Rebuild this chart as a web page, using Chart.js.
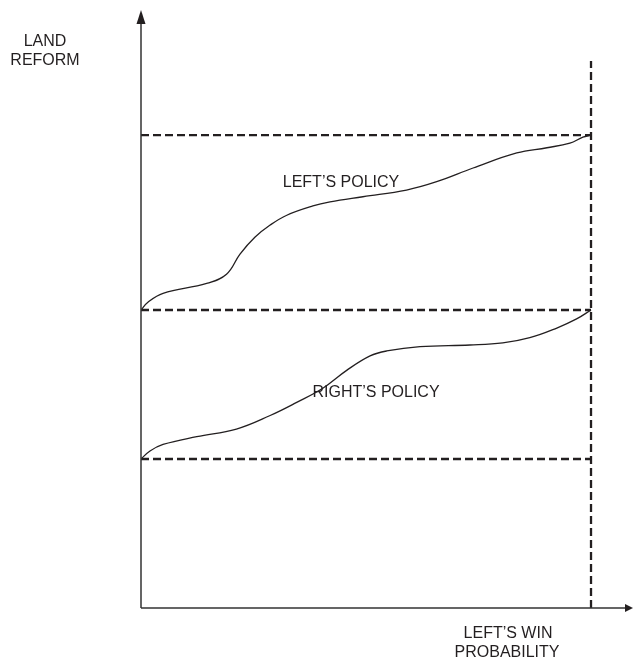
<!DOCTYPE html>
<html>
<head>
<meta charset="utf-8">
<title>Land reform and win probability</title>
<script src="https://cdn.jsdelivr.net/npm/chart.js@4"></script>
<style>
  body { margin: 0; background: #fff; }
  canvas { display: block; }
</style>
</head>
<body>
<canvas id="myChart" width="634" height="664"></canvas>
<script>
// win probability (0..1) and land reform level
const leftX = [0, 0.016, 0.049, 0.146, 0.190, 0.220, 0.253, 0.287, 0.324, 0.382, 0.420, 0.493, 0.590, 0.657, 0.738, 0.835, 0.902, 0.953, 0.982, 1.0];
const leftY = [2.0, 2.054, 2.112, 2.178, 2.240, 2.375, 2.488, 2.570, 2.636, 2.698, 2.725, 2.760, 2.805, 2.861, 2.953, 3.054, 3.089, 3.120, 3.160, 3.174];

const rightX = [0, 0.02, 0.049, 0.124, 0.212, 0.287, 0.346, 0.404, 0.457, 0.509, 0.546, 0.62, 0.731, 0.804, 0.864, 0.924, 0.968, 1.0];
const rightY = [1.0, 1.054, 1.098, 1.150, 1.201, 1.292, 1.380, 1.475, 1.595, 1.692, 1.725, 1.754, 1.765, 1.779, 1.814, 1.879, 1.940, 2.0];

// dashed reference levels and the vertical line at probability 1
const levels = [1.0, 2.0, 3.174];
const vLineX = 1.0;
const vLineTop = 3.671;

const ink = '#231f20';

function pts(xs, ys) {
    return xs.map((x, i) => ({x: x, y: ys[i]}));
}

let dashed = levels.map(v => ({
    data: [{x: 0, y: v}, {x: 1, y: v}],
    borderColor: ink,
    borderWidth: 2.3,
    borderDash: [8, 4],
    pointRadius: 0,
    tension: 0
}));
dashed.push({
    data: [{x: vLineX, y: 0}, {x: vLineX, y: vLineTop}],
    borderColor: ink,
    borderWidth: 2.3,
    borderDash: [8, 4],
    pointRadius: 0,
    tension: 0
});

// axes with arrows and the free text labels
const decor = {
    id: 'decor',
    afterDatasetsDraw(chart) {
        const c = chart.ctx;
        const xs = chart.scales.x, ys = chart.scales.y;
        const x0 = xs.getPixelForValue(0), y0 = ys.getPixelForValue(0);
        const xEnd = xs.right, yEnd = ys.top;
        c.save();
        c.strokeStyle = '#333';
        c.fillStyle = ink;
        c.lineWidth = 1.5;
        c.beginPath();
        c.moveTo(x0, y0);
        c.lineTo(x0, yEnd + 13);
        c.moveTo(x0, y0);
        c.lineTo(xEnd - 7, y0);
        c.stroke();
        // y arrow
        c.beginPath();
        c.moveTo(x0, yEnd);
        c.lineTo(x0 - 4.5, yEnd + 14);
        c.lineTo(x0 + 4.5, yEnd + 14);
        c.closePath();
        c.fill();
        // x arrow
        c.beginPath();
        c.moveTo(xEnd, y0);
        c.lineTo(xEnd - 8, y0 - 4);
        c.lineTo(xEnd - 8, y0 + 4);
        c.closePath();
        c.fill();

        c.font = '16px "Liberation Sans", Arial, sans-serif';
        c.textAlign = 'center';
        c.textBaseline = 'middle';
        c.fillText('LAND', 45, 42);
        c.fillText('REFORM', 45, 61);
        c.fillText('LEFT\u2019S WIN', 508, 634);
        c.fillText('PROBABILITY', 507, 653);
        c.fillText('LEFT\u2019S POLICY', 341, 183);
        c.fillText('RIGHT\u2019S POLICY', 376, 393);
        c.restore();
    }
};

let ch = new Chart(document.getElementById('myChart'), {
    type: 'line',
    data: {
        datasets: [
            {
                label: "Left's policy",
                data: pts(leftX, leftY),
                borderColor: ink,
                borderWidth: 1.3,
                pointRadius: 0,
                tension: 0.4
            },
            {
                label: "Right's policy",
                data: pts(rightX, rightY),
                borderColor: ink,
                borderWidth: 1.3,
                pointRadius: 0,
                tension: 0.4
            },
            ...dashed
        ]
    },
    options: {
        responsive: false,
        animation: false,
        layout: {
            padding: {left: 141, right: 1, top: 10, bottom: 56}
        },
        plugins: {
            legend: {display: false},
            tooltip: {enabled: false}
        },
        scales: {
            x: {type: 'linear', min: 0, max: 1.0933, display: false},
            y: {type: 'linear', min: 0, max: 4.0134, display: false}
        }
    },
    plugins: [decor]
});
</script>
</body>
</html>
